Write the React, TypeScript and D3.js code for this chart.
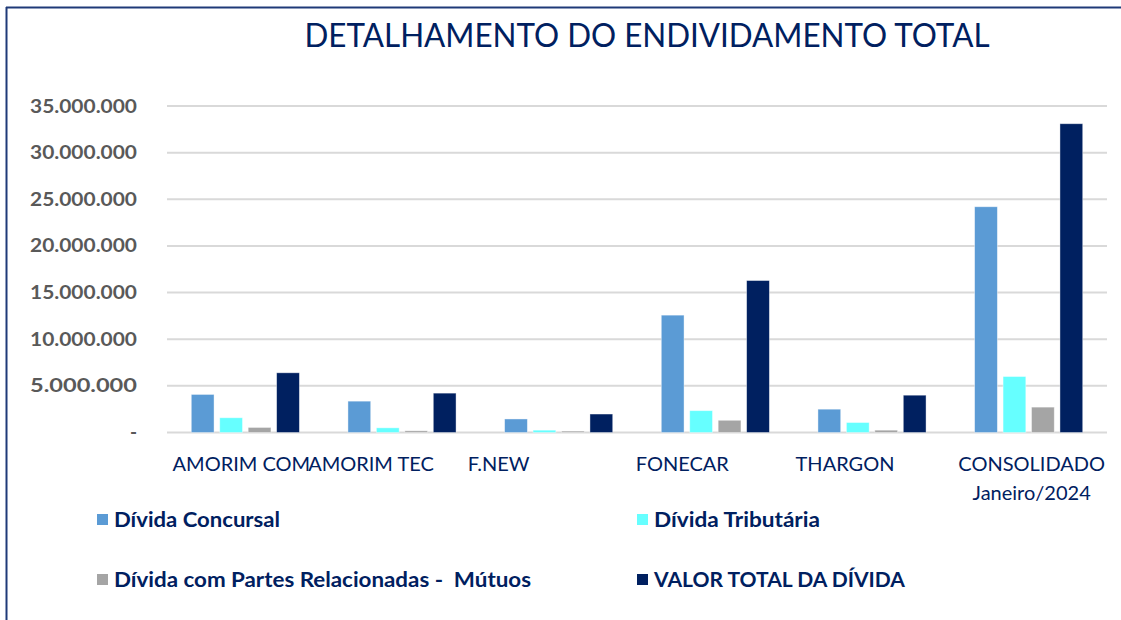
import React from "react";
import * as d3 from "d3";

const categories = ["AMORIM COM", "AMORIM TEC", "F.NEW", "FONECAR", "THARGON", "CONSOLIDADO"];
const seriesNames = [
  "Dívida Concursal",
  "Dívida Tributária",
  "Dívida com Partes Relacionadas -  Mútuos",
  "VALOR TOTAL DA DÍVIDA",
];
const concursal = [4080000, 3360000, 1450000, 12580000, 2500000, 24200000];
const tributaria = [1580000, 500000, 250000, 2340000, 1070000, 6000000];
const partes = [540000, 180000, 150000, 1310000, 250000, 2720000];
const total = [6400000, 4220000, 1980000, 16290000, 4000000, 33100000];
const yTicks = [0, 5000000, 10000000, 15000000, 20000000, 25000000, 30000000, 35000000];

const colors = ["#5b9bd5", "#66ffff", "#a5a5a5", "#002060"];
const navy = "#002060";
const font = "Lato, 'Noto Sans', sans-serif";

export default function App() {
  const W = 1121, H = 620;
  const left = 167, right = 1107, top = 106, bottom = 432.5;
  const series = [concursal, tributaria, partes, total];
  const x = d3.scaleBand<string>().domain(categories).range([left, right]).paddingInner(0.31).paddingOuter(0.155);
  const xs = d3.scaleBand<number>().domain([0, 1, 2, 3]).range([0, x.bandwidth()]).paddingInner(0.2);
  const y = d3.scaleLinear().domain([0, 35000000]).range([bottom, top]);
  const fmt = (v: number) => (v === 0 ? "-" : d3.format(",")(v).replace(/,/g, "."));
  const labelShift = [-4, -31, -60, -33, -27, 3];
  const legendPos = [
    [97, 520],
    [637, 520],
    [97, 580],
    [637, 580],
  ];
  const legendWidths = [166, 166, 417, 251];
  return (
    <svg width={W} height={H} style={{ position: "absolute", left: 0, top: 0, background: "#fff" }}>
      <line x1={6.5} y1={7} x2={6.5} y2={H} stroke="#1f3a78" strokeWidth={2} />
      <line x1={6} y1={7.5} x2={W} y2={7.5} stroke="#1f3a78" strokeWidth={2} />
      <text x={647} y={47} textAnchor="middle" fontFamily={font} fontSize={32} fill={navy} textLength={685} lengthAdjust="spacingAndGlyphs">
        DETALHAMENTO DO ENDIVIDAMENTO TOTAL
      </text>
      {yTicks.map((t) => (
        <g key={t}>
          <line x1={left} x2={right} y1={y(t)} y2={y(t)} stroke="#d9d9d9" strokeWidth={2} />
          <text
            x={137}
            y={y(t) + 6.5}
            textAnchor="end"
            fontFamily={font}
            fontWeight={700}
            fontSize={19}
            fill="#595959"
            {...(t === 0 ? {} : { textLength: 107, lengthAdjust: "spacingAndGlyphs" })}
          >
            {fmt(t)}
          </text>
        </g>
      ))}
      {categories.map((c, ci) => (
        <g key={c} transform={`translate(${x(c)},0)`}>
          {series.map((s, si) => (
            <rect
              key={si}
              x={xs(si)}
              y={y(s[ci])}
              width={xs.bandwidth()}
              height={bottom - y(s[ci])}
              fill={colors[si]}
              stroke="#ffffff"
              strokeOpacity={0.5}
              strokeWidth={0.8}
            />
          ))}
        </g>
      ))}
      {categories.map((c, ci) => {
        const cx = (x(c) as number) + x.bandwidth() / 2 + labelShift[ci];
        return (
          <text key={c} x={cx} y={471} textAnchor="middle" fontFamily={font} fontSize={20} fill={navy}>
            {c}
            {c === "CONSOLIDADO" && (
              <tspan x={cx} dy={29}>
                Janeiro/2024
              </tspan>
            )}
          </text>
        );
      })}
      {seriesNames.map((n, i) => (
        <g key={n}>
          <rect x={legendPos[i][0]} y={legendPos[i][1] - 6} width={11} height={11} fill={colors[i]} />
          <text
            x={legendPos[i][0] + 17}
            y={legendPos[i][1] + 7}
            fontFamily={font}
            fontWeight={700}
            fontSize={20}
            fill={navy}
            style={{ whiteSpace: "pre" }}
            textLength={legendWidths[i]}
            lengthAdjust="spacingAndGlyphs"
          >
            {n}
          </text>
        </g>
      ))}
    </svg>
  );
}
